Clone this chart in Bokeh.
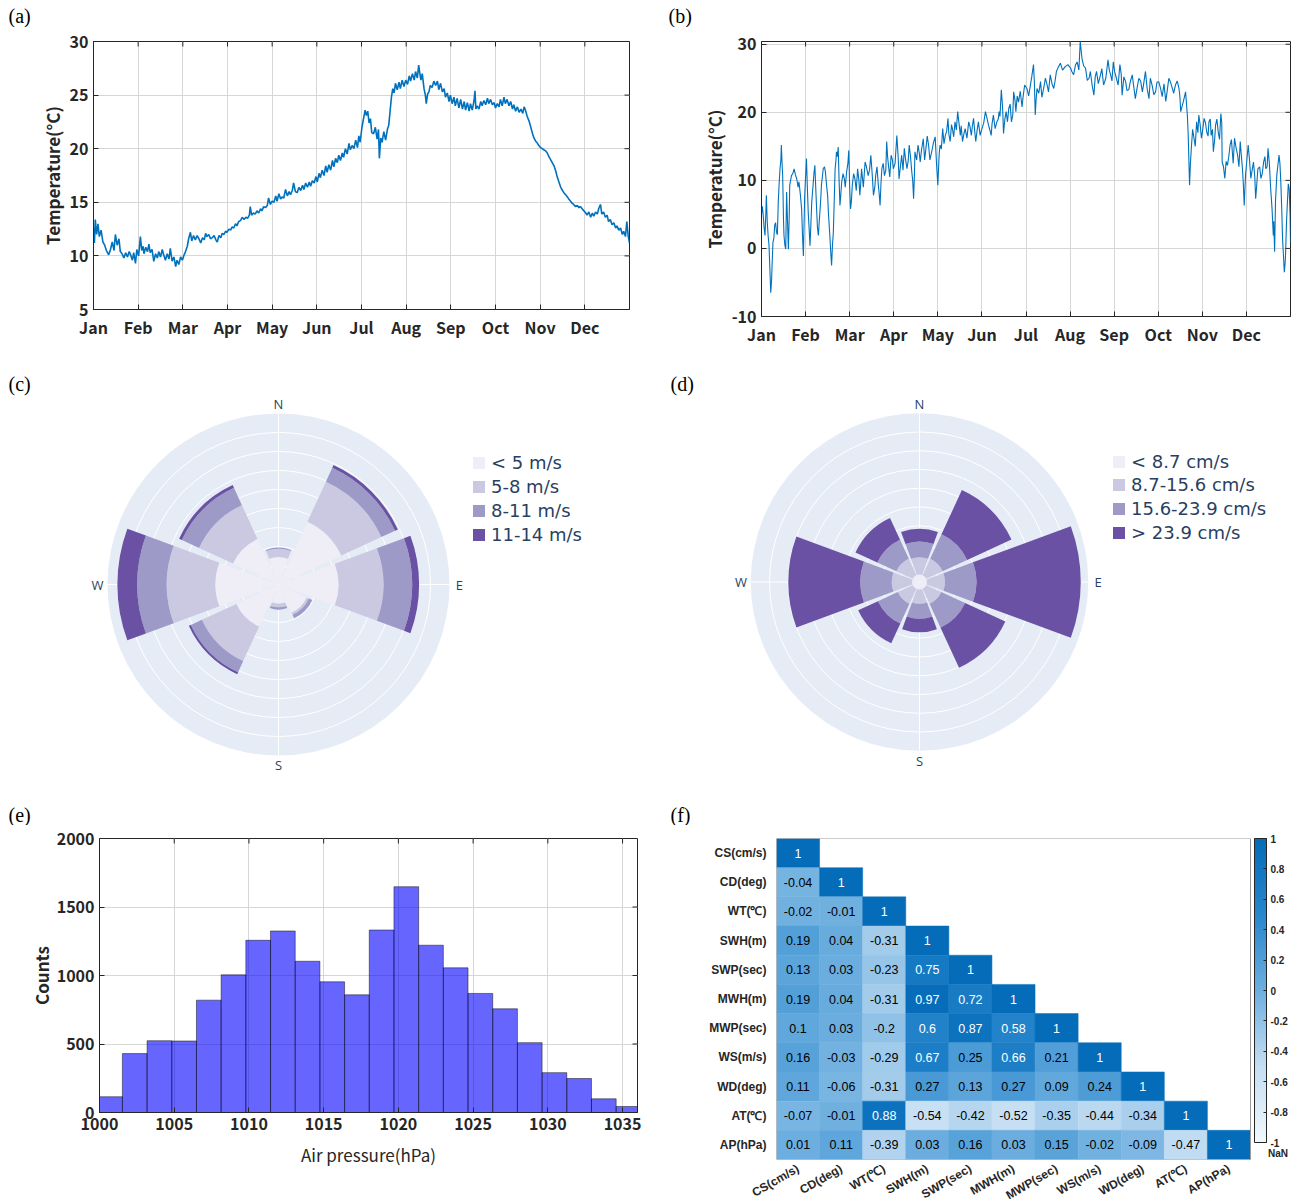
import numpy as np
from bokeh.plotting import figure
from bokeh.models import (FixedTicker, Label, Legend, LegendItem, ColorBar,
                          LinearColorMapper, Range1d, ColumnDataSource)
from bokeh.transform import linear_cmap
from bokeh.layouts import row, column
from bokeh.embed import file_html
from bokeh.resources import INLINE
from bokeh.core.properties import value

MONTHS = ["Jan", "Feb", "Mar", "Apr", "May", "Jun", "Jul", "Aug", "Sep", "Oct", "Nov", "Dec"]

# (a) water temperature, x in month units (0 = 1 Jan, 12 = 31 Dec)
A_MONTH = [0.00, 0.02, 0.04, 0.07, 0.10, 0.13, 0.17, 0.21, 0.25, 0.29, 0.34, 0.38, 0.42, 0.46, 0.49, 0.53, 0.57, 0.60, 0.64, 0.68,
           0.72, 0.76, 0.80, 0.83, 0.87, 0.90, 0.94, 0.97, 1.01, 1.05, 1.08, 1.11, 1.13, 1.17, 1.21, 1.24, 1.27, 1.31, 1.35, 1.39,
           1.43, 1.46, 1.50, 1.54, 1.57, 1.61, 1.65, 1.69, 1.72, 1.76, 1.80, 1.84, 1.87, 1.91, 1.95, 1.99, 2.02, 2.06, 2.10, 2.13,
           2.17, 2.20, 2.24, 2.28, 2.32, 2.36, 2.40, 2.44, 2.48, 2.51, 2.54, 2.58, 2.62, 2.66, 2.70, 2.74, 2.77, 2.81, 2.85, 2.88,
           2.92, 2.96, 2.99, 3.03, 3.07, 3.10, 3.14, 3.18, 3.21, 3.25, 3.29, 3.33, 3.37, 3.41, 3.45, 3.49, 3.51, 3.54, 3.58, 3.62,
           3.66, 3.70, 3.74, 3.77, 3.81, 3.85, 3.89, 3.92, 3.96, 4.00, 4.04, 4.08, 4.11, 4.15, 4.19, 4.22, 4.26, 4.30, 4.34, 4.38,
           4.41, 4.45, 4.48, 4.52, 4.56, 4.60, 4.64, 4.68, 4.71, 4.75, 4.79, 4.83, 4.86, 4.90, 4.94, 4.98, 5.01, 5.05, 5.08, 5.12,
           5.16, 5.20, 5.23, 5.27, 5.31, 5.35, 5.38, 5.42, 5.46, 5.49, 5.53, 5.57, 5.60, 5.64, 5.68, 5.72, 5.75, 5.79, 5.83, 5.87,
           5.91, 5.94, 5.97, 6.01, 6.05, 6.08, 6.11, 6.14, 6.17, 6.20, 6.23, 6.27, 6.31, 6.35, 6.38, 6.40, 6.43, 6.46, 6.50, 6.54,
           6.58, 6.61, 6.64, 6.67, 6.70, 6.73, 6.76, 6.80, 6.84, 6.87, 6.91, 6.95, 6.99, 7.03, 7.07, 7.10, 7.14, 7.18, 7.21, 7.25,
           7.28, 7.30, 7.33, 7.36, 7.40, 7.43, 7.45, 7.48, 7.51, 7.54, 7.58, 7.62, 7.66, 7.70, 7.73, 7.77, 7.81, 7.85, 7.88, 7.92,
           7.96, 7.99, 8.03, 8.07, 8.10, 8.14, 8.18, 8.22, 8.26, 8.30, 8.33, 8.37, 8.41, 8.44, 8.48, 8.52, 8.54, 8.56, 8.59, 8.63,
           8.67, 8.70, 8.74, 8.78, 8.82, 8.85, 8.89, 8.93, 8.97, 9.00, 9.04, 9.08, 9.11, 9.15, 9.19, 9.22, 9.26, 9.30, 9.34, 9.38,
           9.41, 9.45, 9.49, 9.53, 9.57, 9.61, 9.64, 9.67, 9.71, 9.75, 9.79, 9.83, 9.86, 9.90, 9.94, 9.97, 10.01, 10.05, 10.08, 10.12,
           10.16, 10.19, 10.23, 10.27, 10.31, 10.35, 10.38, 10.42, 10.46, 10.50, 10.53, 10.57, 10.61, 10.64, 10.68, 10.72, 10.75, 10.79, 10.83, 10.87,
           10.90, 10.94, 10.98, 11.02, 11.05, 11.09, 11.13, 11.17, 11.20, 11.24, 11.28, 11.31, 11.35, 11.38, 11.42, 11.46, 11.50, 11.53, 11.57, 11.61,
           11.65, 11.69, 11.72, 11.76, 11.80, 11.84, 11.87, 11.91, 11.94, 11.97, 12.00]
A_TEMP = [12.6, 11.2, 13.4, 12.0, 13.0, 11.8, 12.4, 11.3, 11.0, 10.5, 10.1, 10.6, 11.3, 10.5, 12.0, 11.0, 11.6, 10.4, 10.2, 9.8,
          10.3, 9.9, 10.4, 10.1, 9.6, 10.3, 9.3, 10.6, 10.0, 11.8, 10.5, 10.9, 10.2, 10.8, 10.4, 11.1, 10.3, 10.6, 9.5, 10.2,
          9.8, 10.4, 9.9, 10.6, 10.1, 9.6, 10.2, 9.7, 10.7, 9.5, 9.9, 9.0, 9.6, 9.2, 9.9, 9.6, 10.0, 10.4, 10.9, 11.6,
          12.2, 11.4, 11.9, 11.5, 11.9, 11.6, 11.2, 11.7, 11.5, 12.1, 11.8, 12.0, 11.6, 11.7, 11.9, 11.5, 11.3, 11.9, 11.7, 12.1,
          12.0, 12.3, 12.2, 12.5, 12.4, 12.7, 12.6, 13.0, 12.8, 13.2, 13.3, 13.6, 13.4, 13.6, 13.5, 13.8, 14.6, 13.8, 14.0, 13.9,
          14.2, 14.0, 14.4, 14.2, 14.6, 14.5, 14.7, 15.4, 14.8, 15.1, 15.0, 15.6, 15.1, 15.8, 15.3, 15.5, 15.4, 16.2, 15.6, 16.0,
          15.7, 16.1, 16.8, 16.0, 15.9, 16.4, 16.1, 16.6, 16.2, 16.8, 16.4, 16.9, 16.5, 17.0, 16.8, 17.4, 16.9, 17.7, 17.3, 18.0,
          17.5, 18.4, 17.8, 18.5, 18.0, 18.9, 18.3, 19.1, 18.7, 19.4, 18.9, 19.6, 19.2, 20.0, 19.5, 20.5, 19.9, 20.3, 20.0, 20.8,
          20.1, 21.2, 20.6, 22.0, 22.9, 23.6, 23.1, 23.5, 22.4, 22.8, 21.5, 21.4, 22.0, 20.9, 21.8, 19.1, 21.0, 20.6, 21.6, 20.8,
          21.8, 22.2, 23.5, 24.8, 25.6, 25.2, 26.1, 25.5, 26.2, 25.6, 26.4, 25.8, 26.4, 26.0, 26.8, 26.3, 27.0, 26.4, 27.2, 26.6,
          27.8, 27.2, 26.4, 27.0, 25.6, 25.0, 24.2, 25.1, 25.3, 25.9, 25.7, 26.3, 25.9, 26.3, 25.5, 26.1, 25.3, 25.6, 24.8, 25.2,
          24.4, 25.0, 24.2, 24.8, 24.0, 24.7, 23.8, 24.6, 23.7, 24.4, 23.6, 24.3, 23.5, 24.2, 23.6, 24.5, 25.4, 23.7, 24.0, 23.7,
          24.4, 24.0, 24.5, 24.1, 24.7, 24.2, 24.6, 24.1, 24.3, 23.8, 24.2, 23.9, 24.6, 24.0, 24.8, 24.2, 24.6, 24.0, 24.4, 23.7,
          24.1, 23.5, 23.9, 23.4, 23.7, 23.3, 23.9, 23.6, 23.0, 22.6, 22.0, 21.4, 21.0, 20.7, 20.5, 20.3, 20.1, 20.0, 19.9, 19.8,
          19.6, 19.3, 19.0, 18.7, 18.4, 17.9, 17.4, 16.9, 16.4, 16.1, 15.9, 15.7, 15.5, 15.3, 15.1, 14.9, 14.8, 14.6, 14.7, 14.5,
          14.6, 14.4, 14.2, 14.0, 13.8, 14.1, 13.6, 14.0, 13.7, 14.1, 13.9, 14.4, 14.8, 13.9, 14.1, 13.6, 13.8, 13.2, 13.4, 12.9,
          13.1, 12.6, 12.8, 12.4, 12.6, 12.0, 12.3, 11.8, 13.2, 11.9, 11.2]

# (b) air temperature: read envelope points plus extra noise points read in between
B_MONTH = [0.00, 0.04, 0.08, 0.11, 0.15, 0.19, 0.21, 0.24, 0.26, 0.30, 0.34, 0.38, 0.42, 0.45, 0.48, 0.51, 0.55, 0.57, 0.61, 0.64,
           0.68, 0.74, 0.80, 0.85, 0.91, 0.95, 0.98, 1.02, 1.06, 1.10, 1.14, 1.17, 1.21, 1.25, 1.29, 1.33, 1.36, 1.40, 1.45, 1.50,
           1.55, 1.59, 1.63, 1.67, 1.70, 1.74, 1.78, 1.82, 1.88, 1.93, 1.98, 2.02, 2.06, 2.12, 2.18, 2.23, 2.27, 2.35, 2.42, 2.48,
           2.54, 2.59, 2.65, 2.69, 2.73, 2.79, 2.84, 2.88, 2.94, 2.99, 3.07, 3.12, 3.18, 3.24, 3.30, 3.35, 3.41, 3.45, 3.48, 3.55,
           3.60, 3.67, 3.73, 3.79, 3.86, 3.94, 4.00, 4.05, 4.11, 4.17, 4.23, 4.28, 4.33, 4.39, 4.45, 4.51, 4.56, 4.62, 4.70, 4.76,
           4.81, 4.86, 4.92, 5.00, 5.08, 5.15, 5.21, 5.26, 5.34, 5.39, 5.44, 5.49, 5.55, 5.61, 5.67, 5.72, 5.77, 5.83, 5.91, 5.97,
           6.02, 6.10, 6.17, 6.21, 6.25, 6.33, 6.40, 6.48, 6.55, 6.63, 6.69, 6.78, 6.89, 7.01, 7.08, 7.16, 7.23, 7.27, 7.35, 7.39,
           7.46, 7.54, 7.60, 7.69, 7.76, 7.86, 7.92, 7.98, 8.05, 8.13, 8.18, 8.26, 8.33, 8.41, 8.48, 8.56, 8.64, 8.71, 8.79, 8.86,
           8.94, 9.01, 9.09, 9.17, 9.24, 9.32, 9.39, 9.47, 9.51, 9.57, 9.62, 9.66, 9.68, 9.71, 9.75, 9.81, 9.87, 9.92, 9.98, 10.04,
           10.10, 10.15, 10.20, 10.25, 10.30, 10.36, 10.42, 10.45, 10.51, 10.57, 10.63, 10.68, 10.73, 10.80, 10.86, 10.91, 10.95, 10.98, 11.04, 11.10,
           11.16, 11.21, 11.26, 11.33, 11.39, 11.44, 11.49, 11.55, 11.61, 11.64, 11.69, 11.74, 11.78, 11.82, 11.86, 11.89, 11.93, 11.97, 12.00]
B_TEMP = [5.0, 4.8, 1.9, 7.8, 1.9, -3.0, -6.5, -2.5, 0.9, 3.4, 2.4, 6.8, 11.7, 15.2, 10.7, 1.9, -0.1, 8.3, -0.1, 9.3,
          10.7, 11.7, 10.2, 9.8, 5.8, -1.1, 7.8, 13.2, 5.3, 0.4, 6.8, 9.3, 12.2, 5.8, 1.9, 5.8, 9.3, 11.7, 11.2, 7.8,
          1.9, -2.5, 2.4, 11.7, 14.2, 14.9, 6.3, 9.8, 10.2, 11.2, 14.4, 5.8, 9.3, 10.2, 11.7, 7.8, 11.7, 12.7, 10.7, 13.7,
          7.8, 10.7, 9.3, 6.3, 11.7, 10.7, 15.7, 12.2, 13.7, 11.7, 16.6, 10.2, 13.7, 14.7, 11.7, 15.2, 11.2, 7.3, 14.2, 15.2,
          12.7, 16.1, 14.7, 15.2, 14.2, 16.4, 9.3, 15.2, 17.6, 16.6, 19.1, 15.7, 17.6, 18.6, 20.1, 16.6, 15.7, 17.6, 18.6, 16.6,
          19.1, 15.7, 18.6, 17.6, 20.1, 18.1, 16.6, 19.6, 18.6, 20.1, 23.3, 16.9, 20.1, 20.6, 18.6, 23.0, 20.1, 21.5, 20.8, 24.0,
          23.5, 24.0, 27.0, 19.6, 23.5, 24.5, 23.5, 24.0, 25.5, 23.5, 26.0, 27.2, 26.7, 26.5, 25.5, 27.4, 30.4, 27.9, 26.5, 24.7,
          26.0, 22.5, 26.0, 25.5, 24.0, 27.7, 25.5, 27.4, 25.0, 27.0, 22.5, 24.5, 23.3, 25.5, 22.0, 25.0, 23.0, 26.0, 22.0, 24.0,
          23.0, 24.5, 22.3, 21.6, 25.0, 23.5, 24.0, 23.5, 20.1, 21.6, 23.0, 19.6, 16.6, 9.3, 14.7, 16.2, 18.6, 19.6, 16.2, 19.1,
          17.1, 18.6, 16.6, 14.2, 18.1, 17.1, 19.8, 12.7, 10.3, 12.2, 15.2, 14.2, 16.2, 13.7, 15.7, 11.7, 6.3, 10.8, 15.2, 10.3,
          12.7, 7.3, 11.7, 10.3, 12.7, 11.7, 14.7, 8.8, 1.9, -0.5, 10.8, 13.7, 9.8, 1.4, -3.5, -0.5, 6.8, 8.8, 0.9]
B_EXTRA_MONTH = [0.02, 0.06, 0.10, 0.13, 0.17, 0.23, 0.28, 0.32, 0.36, 0.40, 0.44, 0.47, 0.50, 0.53, 0.59, 0.63, 0.66, 0.71,
                 0.77, 0.83, 0.88, 0.93, 1.00, 1.04, 1.08, 1.12, 1.16, 1.19, 1.23, 1.27, 1.31, 1.35, 1.38, 1.43, 1.48, 1.52,
                 1.57, 1.61, 1.65, 1.69, 1.72, 1.76, 1.80, 1.85, 1.90, 1.96, 2.00, 2.04, 2.09, 2.15, 2.21, 2.25, 2.31, 2.38,
                 2.45, 2.51, 2.57, 2.62, 2.67, 2.71, 2.76, 2.82, 2.86, 2.91, 2.97, 3.03, 3.10, 3.15, 3.21, 3.27, 3.33, 3.38,
                 3.43, 3.47, 3.52, 3.58, 3.63, 3.70, 3.76, 3.82, 3.90, 3.97,
                 4.03, 4.08, 4.14, 4.20, 4.25, 4.31, 4.36, 4.42, 4.48, 4.53, 4.59, 4.66, 4.73, 4.78, 4.84, 4.89, 4.96, 5.04,
                 5.12, 5.18, 5.23, 5.30, 5.37, 5.41, 5.47, 5.52, 5.58, 5.64, 5.70, 5.75, 5.80, 5.87, 5.94,
                 6.06, 6.13, 6.19, 6.23, 6.29, 6.36, 6.44, 6.51, 6.59, 6.66, 6.73, 6.83, 6.95, 7.04, 7.12, 7.20, 7.31,
                 7.43, 7.50, 7.57, 7.64, 7.72, 7.81, 7.89, 7.95, 8.01, 8.09, 8.16, 8.22, 8.29, 8.37, 8.44, 8.52, 8.60,
                 8.67, 8.75, 8.82, 8.90, 8.97, 9.05, 9.13, 9.20, 9.28, 9.35, 9.43, 9.49,
                 9.73, 9.78, 9.84, 9.90, 9.95, 10.01, 10.07, 10.13, 10.18, 10.23, 10.28, 10.33, 10.39, 10.44, 10.48, 10.54,
                 10.60, 10.66, 10.70, 10.76, 10.83, 10.88, 10.93, 11.01, 11.07, 11.13, 11.19, 11.23, 11.30, 11.36, 11.42,
                 11.47, 11.52, 11.58, 11.62, 11.66, 11.71, 11.76, 11.80, 11.84, 11.88, 11.91, 11.95, 11.99]
B_EXTRA_TEMP = [6.2, 3.0, 5.5, 4.0, 0.5, -4.5, 1.5, 3.8, 2.0, 9.5, 13.0, 12.0, 4.0, 0.5, 4.0, 5.0, 10.0, 11.0,
                10.8, 9.0, 8.0, 2.0, 10.5, 9.0, 3.0, 3.5, 8.5, 11.0, 9.0, 3.0, 4.0, 8.0, 10.5, 12.0, 9.0, 5.0,
                -0.5, 0.5, 7.0, 13.0, 13.5, 10.0, 8.0, 11.0, 9.0, 12.5, 9.0, 7.0, 11.0, 8.5, 10.0, 9.5, 9.0, 12.0,
                11.5, 11.0, 9.0, 12.0, 8.0, 9.5, 12.5, 11.5, 13.5, 10.5, 13.0, 12.5, 13.5, 12.0, 11.5, 13.0, 13.0, 13.5,
                10.0, 11.0, 13.0, 14.0, 14.5, 13.0, 16.5, 13.0, 15.5, 12.5,
                13.8, 14.6, 15.4, 17.2, 16.8, 18.2, 16.4, 17.4, 18.4, 18.0, 16.8, 16.2, 17.9, 17.8, 17.0, 17.3, 16.6, 18.4,
                19.0, 17.4, 18.3, 17.6, 19.0, 19.4, 20.6, 19.0, 18.6, 21.2, 19.6, 21.8, 22.4, 23.1, 22.6,
                22.4, 25.2, 24.4, 22.0, 22.8, 22.2, 25.0, 23.0, 24.2, 24.6, 26.6, 26.2, 27.0, 26.0, 26.9, 26.2, 26.8,
                25.0, 24.0, 25.2, 24.2, 26.4, 25.0, 26.2, 24.6, 26.0, 24.0, 25.6, 25.2, 23.2, 24.6, 24.0, 23.6, 24.6,
                24.2, 23.4, 25.0, 22.6, 24.4, 23.6, 24.2, 23.0, 24.4, 22.8, 24.6, 22.4,
                12.5, 17.5, 15.0, 17.0, 18.2, 17.5, 18.5, 16.5, 19.0, 17.5, 16.0, 19.0, 16.0, 18.5, 12.0, 12.8,
                13.5, 16.0, 12.5, 15.0, 12.0, 14.0, 9.5, 13.0, 13.0, 11.5, 10.5, 9.0, 12.0, 11.0, 13.5,
                12.0, 12.5, 6.0, 4.0, 7.0, 12.0, 12.5, 6.0, -1.0, -2.0, 4.0, 9.5, 5.0]

# (c) wind rose, frequency (%) per direction for each speed bin
DIRECTIONS = ["N", "NE", "E", "SE", "S", "SW", "W", "NW"]
DIR_DEG = [0, 45, 90, 135, 180, 225, 270, 315]
WIND_BINS = ["< 5 m/s", "5-8 m/s", "8-11 m/s", "11-14 m/s"]
WIND_LT5 = [3.6, 9.1, 7.9, 4.1, 2.5, 6.1, 8.3, 6.6]
WIND_5_8 = [1.1, 5.8, 5.9, 0.3, 0.5, 5.0, 6.4, 4.9]
WIND_8_11 = [0.15, 2.0, 3.8, 0.5, 0.3, 1.6, 3.9, 2.5]
WIND_11_14 = [0.0, 0.4, 0.9, 0.0, 0.0, 0.3, 2.6, 0.4]

# (d) current rose
CUR_BINS = ["< 8.7 cm/s", "8.7-15.6 cm/s", "15.6-23.9 cm/s", "> 23.9 cm/s"]
CUR_LT87 = [1.0, 1.0, 1.0, 1.0, 1.0, 1.0, 1.0, 1.0]
CUR_87_156 = [2.3, 2.4, 2.4, 2.2, 1.9, 2.2, 2.7, 2.4]
CUR_156_239 = [2.1, 3.6, 4.2, 3.5, 2.0, 2.9, 4.2, 2.8]
CUR_GT239 = [1.7, 6.5, 13.9, 5.9, 1.8, 2.9, 9.6, 3.2]

# (e) air pressure histogram
P_BIN_START = 999.88
P_BIN_WIDTH = 1.652
P_COUNTS = [115, 430, 524, 522, 820, 1005, 1257, 1325, 1104, 954, 859, 1332, 1648, 1221, 1056, 869, 757, 510, 291, 248, 100, 44]

# (f) correlation matrix (lower triangle)
VARS = ["CS(cm/s)", "CD(deg)", "WT(℃)", "SWH(m)", "SWP(sec)", "MWH(m)", "MWP(sec)", "WS(m/s)", "WD(deg)", "AT(℃)", "AP(hPa)"]
CORR = [
    [1],
    [-0.04, 1],
    [-0.02, -0.01, 1],
    [0.19, 0.04, -0.31, 1],
    [0.13, 0.03, -0.23, 0.75, 1],
    [0.19, 0.04, -0.31, 0.97, 0.72, 1],
    [0.1, 0.03, -0.2, 0.6, 0.87, 0.58, 1],
    [0.16, -0.03, -0.29, 0.67, 0.25, 0.66, 0.21, 1],
    [0.11, -0.06, -0.31, 0.27, 0.13, 0.27, 0.09, 0.24, 1],
    [-0.07, -0.01, 0.88, -0.54, -0.42, -0.52, -0.35, -0.44, -0.34, 1],
    [0.01, 0.11, -0.39, 0.03, 0.16, 0.03, 0.15, -0.02, -0.09, -0.47, 1],
]
CB_TICKS = [-1, -0.8, -0.6, -0.4, -0.2, 0, 0.2, 0.4, 0.6, 0.8, 1]

AX_FONT = "Noto Sans CJK SC"
INK = "#262626"
GRID = "#d6d6d6"
LINE = "#0072BD"
TAG_FONT = "Liberation Serif"
POLAR_INK = "#2a3f5f"
LEGEND_FONT = "DejaVu Sans"
PURPLES = ["#efedf5", "#cbc9e2", "#9e9ac8", "#6a51a3"]


def tag_strip(w, h, tags):
    """A thin text-only strip holding the panel letters above a row of plots."""
    p = figure(frame_width=w, frame_height=h, min_border=0, x_range=Range1d(0, w), y_range=Range1d(0, h),
               x_axis_location=None, y_axis_location=None, output_backend="svg", toolbar_location=None)
    p.grid.visible = False
    p.outline_line_color = None
    for text, x, top in tags:
        p.add_layout(Label(x=x, y=h - top, text=text, text_font=TAG_FONT, text_font_size="20px",
                           text_color="black", text_baseline="top", text_align="left"))
    return p


def style_axis(ax):
    ax.major_label_text_font = AX_FONT
    ax.major_label_text_font_style = "bold"
    ax.major_label_text_font_size = "16px"
    ax.major_label_text_color = INK
    ax.axis_line_color = INK
    ax.major_tick_line_color = INK
    ax.major_tick_in = 5
    ax.major_tick_out = 0
    ax.minor_tick_line_color = None
    ax.major_label_standoff = 5
    ax.axis_label_text_font = AX_FONT
    ax.axis_label_text_font_style = "bold"
    ax.axis_label_text_font_size = "17px"
    ax.axis_label_text_color = INK
    ax.axis_label_standoff = 2


def boxed(p, xticks, yticks, xover, yover, fw, fh):
    xt = FixedTicker(ticks=xticks)
    yt = FixedTicker(ticks=yticks)
    p.xaxis.ticker = xt
    p.yaxis.ticker = yt
    p.xgrid.ticker = xt
    p.ygrid.ticker = yt
    p.xaxis.major_label_overrides = xover
    p.yaxis.major_label_overrides = yover
    style_axis(p.below[0])
    style_axis(p.left[0])
    p.grid.grid_line_color = GRID
    p.grid.grid_line_width = 1
    p.outline_line_color = INK
    # inward ticks on the top and right sides of the box
    xr, yr = p.x_range, p.y_range
    dx = 5 * (xr.end - xr.start) / fw
    dy = 5 * (yr.end - yr.start) / fh
    tx = [t for t in xticks if xr.start < t < xr.end]
    ty = [t for t in yticks if yr.start < t < yr.end]
    p.segment(x0=tx, x1=tx, y0=[yr.end] * len(tx), y1=[yr.end - dy] * len(tx), line_color=INK, line_width=1)
    p.segment(x0=[xr.end] * len(ty), x1=[xr.end - dx] * len(ty), y0=ty, y1=ty, line_color=INK, line_width=1)


def ts_figure(xs, ys, y0, y1, yticks, bl, br, bt, bb, fw, fh, lw):
    p = figure(frame_width=fw, frame_height=fh, min_border_left=bl, min_border_right=br,
               min_border_top=bt, min_border_bottom=bb, x_range=Range1d(0, 12), y_range=Range1d(y0, y1),
               output_backend="svg", toolbar_location=None)
    p.line(xs, ys, line_color=LINE, line_width=lw)
    boxed(p, list(range(12)), yticks, {i: m for i, m in enumerate(MONTHS)}, {t: str(t) for t in yticks}, fw, fh)
    p.left[0].axis_label = "Temperature(°C)"
    return p


# row 1 : strip of 27 px, then plots of 346 px
pa = ts_figure(A_MONTH, A_TEMP, 5, 30, [5, 10, 15, 20, 25, 30], 93, 29, 14, 64, 536, 268, 1.6)
b_all_m = np.array(B_MONTH + B_EXTRA_MONTH)
b_all_t = np.array(B_TEMP + B_EXTRA_TEMP)
order = np.argsort(b_all_m, kind="stable")
pb = ts_figure(b_all_m[order], b_all_t[order], -10, 30.4, [-10, 0, 10, 20, 30], 103, 6, 10, 61, 529, 275, 1.1)
strip1 = row(tag_strip(658, 27, [("(a)", 8, 4)]), tag_strip(638, 27, [("(b)", 10, 4)]))


def rose_figure(bins, labels, px, cx, cy_top, fw, fh, leg_x, leg_centers, tag_text, tag_dx):
    x0, x1 = -cx / px, (fw - cx) / px
    y1, y0 = cy_top / px, -(fh - cy_top) / px
    p = figure(frame_width=fw, frame_height=fh, min_border=0, x_range=Range1d(x0, x1), y_range=Range1d(y0, y1),
               x_axis_location=None, y_axis_location=None, output_backend="svg", toolbar_location=None)
    p.grid.visible = False
    p.outline_line_color = None
    R = 22.5
    p.circle(x=[0], y=[0], radius=[R], fill_color="#e5ecf6", line_color=None)
    rings = np.arange(2.5, R, 2.5)
    p.circle(x=np.zeros(len(rings)), y=np.zeros(len(rings)), radius=rings, fill_color=None,
             line_color="white", line_width=1)
    p.segment(x0=[-R, 0], y0=[0, -R], x1=[R, 0], y1=[0, R], line_color="white", line_width=1)
    mat = np.array(bins, dtype=float)
    cum = np.cumsum(mat, axis=0)
    inner = np.vstack([np.zeros(mat.shape[1]), cum[:-1]])
    theta = np.deg2rad(90 - np.array(DIR_DEG, dtype=float))
    half = np.deg2rad(40.5 / 2)
    for k in range(mat.shape[0]):
        src = ColumnDataSource(dict(ir=inner[k], orad=cum[k], sa=theta - half, ea=theta + half))
        r = p.annular_wedge(x=0, y=0, inner_radius="ir", outer_radius="orad", start_angle="sa", end_angle="ea",
                            fill_color=PURPLES[k], line_color=None, source=src)
        # one single-entry legend per bin, so the rows sit exactly where the reference has them
        leg = Legend(items=[LegendItem(label=labels[k], renderers=[r])], location=(leg_x, fh - leg_centers[k] - 11),
                     label_text_font=LEGEND_FONT, label_text_font_size="18px", label_text_color=POLAR_INK,
                     glyph_width=15, glyph_height=15, label_height=20, label_standoff=5,
                     spacing=0, padding=0, margin=0, border_line_color=None, background_fill_alpha=0)
        p.add_layout(leg)
    rl = 23.8
    comp = [0, 90, 180, 270]
    p.text(x=[rl * np.sin(np.deg2rad(a)) for a in comp], y=[rl * np.cos(np.deg2rad(a)) for a in comp],
           text=["N", "E", "S", "W"], text_align="center", text_baseline="middle",
           text_font=value("Open Sans"), text_font_size="13px", text_color=POLAR_INK)
    p.add_layout(Label(x=x0 + tag_dx / px, y=y1 + 1 / px, text=tag_text, text_font=TAG_FONT, text_font_size="20px",
                       text_color="black", text_baseline="top", text_align="left"))
    return p


pc = rose_figure([WIND_LT5, WIND_5_8, WIND_8_11, WIND_11_14], WIND_BINS, 7.6, 278, 211, 658, 427, 471,
                 [89, 113, 137, 161], "(c)", 8)
pd = rose_figure([CUR_LT87, CUR_87_156, CUR_156_239, CUR_GT239], CUR_BINS, 7.5, 261, 208.5, 638, 427, 453,
                 [88, 111, 135, 159], "(d)", 12)

# row 3 : strip of 25 px, then plots of 375 px
pe = figure(frame_width=538, frame_height=274, min_border_left=99, min_border_right=21, min_border_top=13,
            min_border_bottom=88, x_range=Range1d(1000, 1036), y_range=Range1d(0, 2000),
            output_backend="svg", toolbar_location=None)
edges = P_BIN_START + P_BIN_WIDTH * np.arange(len(P_COUNTS) + 1)
pe.quad(left=edges[:-1], right=edges[1:], bottom=0, top=P_COUNTS, fill_color="#0000ff", fill_alpha=0.6,
        line_color="black", line_alpha=0.65, line_width=0.7)
e_xt = list(range(1000, 1036, 5))
e_yt = [0, 500, 1000, 1500, 2000]
boxed(pe, e_xt, e_yt, {t: str(t) for t in e_xt}, {t: str(t) for t in e_yt}, 538, 274)
pe.left[0].axis_label = "Counts"
pe.left[0].axis_label_standoff = 0
pe.below[0].axis_label = "Air pressure(hPa)"
pe.below[0].axis_label_text_font_style = "normal"
pe.below[0].axis_label_standoff = 9

# (f) correlation heatmap
anchors_v = [-1, -0.5, 0, 0.5, 1]
anchors_c = np.array([[242, 248, 253], [196, 222, 243], [110, 175, 223], [40, 135, 205], [5, 108, 185]], dtype=float)
tt = np.linspace(-1, 1, 256)
PALETTE = ["#%02x%02x%02x" % tuple(int(round(np.interp(t, anchors_v, anchors_c[:, c]))) for c in range(3)) for t in tt]

n = len(VARS)
xs, ys, vs, txt, tcol = [], [], [], [], []
for i, rv in enumerate(CORR):
    for j, v in enumerate(rv):
        xs.append(j + 0.5); ys.append(n - 0.5 - i); vs.append(v)
        txt.append(f"{v:g}"); tcol.append("white" if v >= 0.5 else "black")
hsrc = ColumnDataSource(dict(x=xs, y=ys, v=vs, t=txt, tc=tcol))

cell_px = 474 / n
fw_f, fh_f = 518, 321
pf = figure(frame_width=fw_f, frame_height=fh_f, min_border_left=118, min_border_right=2, min_border_top=8,
            min_border_bottom=375 - 8 - fh_f, x_range=Range1d(0, fw_f / cell_px), y_range=Range1d(0, n),
            output_backend="svg", toolbar_location=None)
cmap = linear_cmap("v", PALETTE, -1, 1)
pf.rect(x="x", y="y", width=1, height=1, fill_color=cmap, line_color=cmap, line_width=0.5, source=hsrc)
pf.text(x="x", y="y", text="t", text_color="tc", text_align="center", text_baseline="middle",
        text_font=value("Liberation Sans"), text_font_size="12.5px", source=hsrc)
pf.rect(x=[n / 2], y=[n / 2], width=[n], height=[n], fill_color=None, line_color="#9a9a9a", line_width=1)
pf.grid.visible = False
pf.outline_line_color = None
centers = [k + 0.5 for k in range(n)]
pf.xaxis.ticker = FixedTicker(ticks=centers)
pf.yaxis.ticker = FixedTicker(ticks=centers)
pf.xaxis.major_label_overrides = {k + 0.5: VARS[k] for k in range(n)}
pf.yaxis.major_label_overrides = {n - 0.5 - k: VARS[k] for k in range(n)}
for ax in list(pf.xaxis) + list(pf.yaxis):
    ax.major_label_text_font = "Liberation Sans"
    ax.major_label_text_font_style = "bold"
    ax.major_label_text_font_size = "12px"
    ax.major_label_text_color = INK
    ax.axis_line_color = None
    ax.major_tick_line_color = None
    ax.minor_tick_line_color = None
    ax.major_label_standoff = 4
pf.xaxis.major_label_orientation = np.deg2rad(30)
pf.xaxis.major_label_standoff = 2

mapper = LinearColorMapper(palette=PALETTE, low=-1, high=1)
cb = ColorBar(color_mapper=mapper, orientation="vertical", width=12, height=fh_f - 17, location=(478, 17),
              padding=0, margin=0, ticker=FixedTicker(ticks=CB_TICKS),
              major_label_overrides={t: f"{t:g}" for t in CB_TICKS},
              major_label_text_font="Liberation Sans", major_label_text_font_style="bold",
              major_label_text_font_size="10px", major_label_text_color=INK, label_standoff=4,
              major_tick_in=3, major_tick_out=0, major_tick_line_color=INK, minor_tick_line_color=None,
              bar_line_color=INK, bar_line_width=1, border_line_color=None, background_fill_alpha=0)
pf.add_layout(cb)
r_nan = pf.quad(left=[], right=[], top=[], bottom=[], fill_color="white", line_color=INK)
nan_leg = Legend(items=[LegendItem(label="NaN", renderers=[r_nan])], location=(478, 0),
                 label_text_font="Liberation Sans", label_text_font_style="bold", label_text_font_size="10px",
                 label_text_color=INK, glyph_width=11, glyph_height=11, label_height=11, label_standoff=3,
                 padding=0, margin=0, spacing=0, border_line_color=None, background_fill_alpha=0)
pf.add_layout(nan_leg)
strip3 = row(tag_strip(658, 25, [("(e)", 8, 3)]), tag_strip(638, 25, [("(f)", 12, 3)]))

layout = column(strip1, row(pa, pb), row(pc, pd), strip3, row(pe, pf))
open("out.html", "w").write(file_html(layout, INLINE))
